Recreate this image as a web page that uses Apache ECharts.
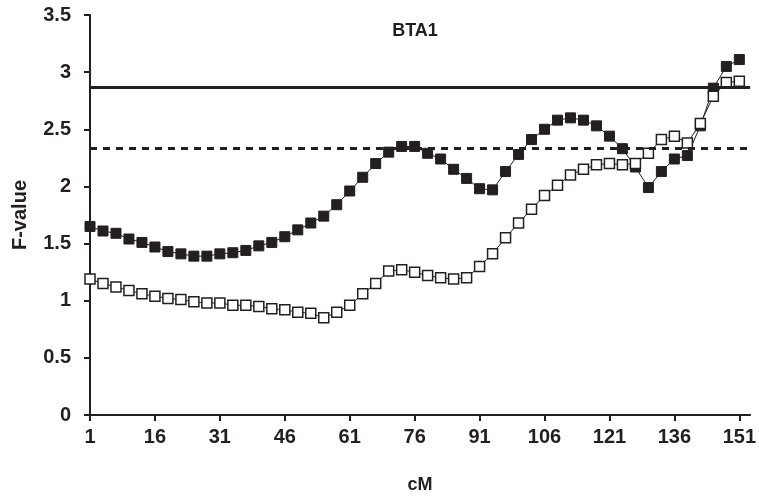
<!DOCTYPE html>
<html><head><meta charset="utf-8">
<script src="https://cdn.jsdelivr.net/npm/echarts@6/dist/echarts.min.js"></script>
<style>html,body{margin:0;padding:0;background:#fff}#c{width:759px;height:502px}</style>
</head><body><div id="c"></div>
<script>
const cM = [1,4,7,10,13,16,19,22,25,28,31,34,37,40,43,46,49,52,55,58,61,64,67,70,73,76,79,82,85,88,91,94,97,100,103,106,109,112,115,118,121,124,127,130,133,136,139,142,145,148,151];
const filledF = [1.65,1.61,1.59,1.54,1.51,1.47,1.43,1.41,1.39,1.39,1.41,1.42,1.44,1.48,1.51,1.56,1.62,1.68,1.74,1.84,1.96,2.08,2.20,2.30,2.35,2.35,2.29,2.24,2.15,2.07,1.98,1.97,2.13,2.28,2.41,2.50,2.58,2.60,2.58,2.53,2.44,2.33,2.17,1.99,2.13,2.24,2.27,2.53,2.86,3.05,3.11];
const openF = [1.19,1.15,1.12,1.09,1.06,1.04,1.02,1.01,0.99,0.98,0.98,0.96,0.96,0.95,0.93,0.92,0.90,0.89,0.85,0.90,0.96,1.06,1.15,1.26,1.27,1.25,1.22,1.20,1.19,1.20,1.30,1.41,1.55,1.68,1.80,1.92,2.01,2.10,2.15,2.19,2.20,2.19,2.20,2.29,2.41,2.44,2.38,2.55,2.79,2.91,2.92];
const xTicks = [1,16,31,46,61,76,91,106,121,136,151];
const thresholdSolid = 2.87;
const thresholdDashed = 2.33;

const ink = '#231f20';
const font = '"Liberation Sans", Arial, sans-serif';
const chart = echarts.init(document.getElementById('c'));
chart.setOption({
  animation: false,
  backgroundColor: '#fff',
  title: {text: 'BTA1', left: 410, top: 17, textAlign: 'center',
    textStyle: {fontFamily: font, fontWeight: 'bold', fontSize: 18, color: ink}},
  grid: {left: 90, right: 8, top: 15, bottom: 87},
  xAxis: {
    type: 'value', min: 1, max: 153.5,
    name: 'cM', nameLocation: 'middle', nameGap: 61,
    nameTextStyle: {fontFamily: font, fontWeight: 'bold', fontSize: 18, color: ink},
    axisLine: {onZero: false, lineStyle: {color: ink, width: 2}},
    axisTick: {customValues: xTicks, length: 6, lineStyle: {color: ink, width: 2}},
    axisLabel: {customValues: xTicks, margin: 12, fontFamily: font, fontWeight: 'bold', fontSize: 20, color: ink},
    splitLine: {show: false}
  },
  yAxis: {
    type: 'value', min: 0, max: 3.5, interval: 0.5,
    name: 'F-value', nameLocation: 'middle', nameGap: 60, nameRotate: 90,
    nameTextStyle: {fontFamily: font, fontWeight: 'bold', fontSize: 20, color: ink},
    axisLine: {show: true, onZero: false, lineStyle: {color: ink, width: 2}},
    axisTick: {show: true, length: 6, lineStyle: {color: ink, width: 2}},
    axisLabel: {margin: 19, fontFamily: font, fontWeight: 'bold', fontSize: 20, color: ink},
    splitLine: {show: false}
  },
  series: [
    {
      name: 'filled', type: 'line', data: cM.map((x, i) => [x, filledF[i]]),
      symbol: 'rect', symbolSize: 10, z: 3,
      itemStyle: {color: ink, borderColor: ink, borderWidth: 1},
      lineStyle: {color: ink, width: 1},
      emphasis: {disabled: true},
      markLine: {
        silent: true, symbol: 'none', label: {show: false}, animation: false,
        data: [
          {yAxis: thresholdSolid, lineStyle: {type: 'solid', width: 3, color: ink}},
          {yAxis: thresholdDashed, lineStyle: {type: [7, 6], width: 3, color: ink}}
        ]
      }
    },
    {
      name: 'open', type: 'line', data: cM.map((x, i) => [x, openF[i]]),
      symbol: 'rect', symbolSize: 10, z: 4,
      itemStyle: {color: '#fff', borderColor: ink, borderWidth: 1.5},
      lineStyle: {color: ink, width: 1},
      emphasis: {disabled: true}
    }
  ]
});
</script>
</body></html>
